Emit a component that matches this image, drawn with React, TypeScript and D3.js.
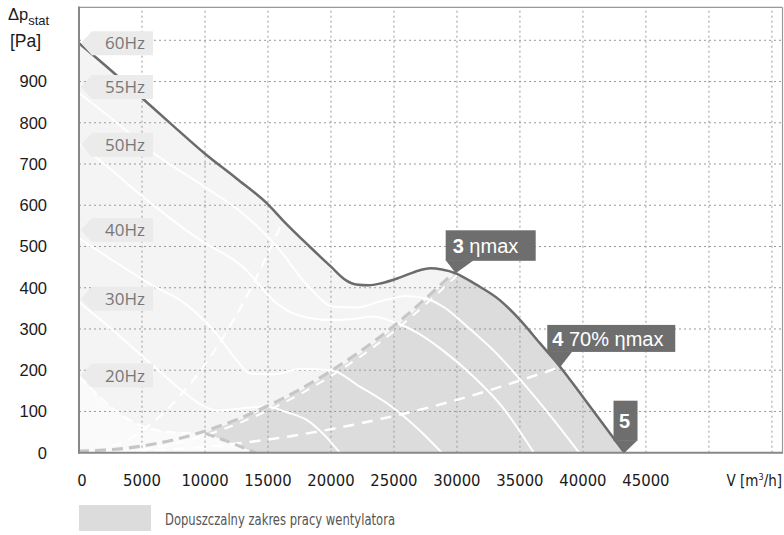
import React from 'react';
import * as d3 from 'd3';

type P = [number, number];

// ---- data (flow m3/h, pressure Pa) ----
const flowTicks = [0, 5000, 10000, 15000, 20000, 25000, 30000, 35000, 40000, 45000];
const gridFlows = [5000, 10000, 15000, 20000, 25000, 30000, 35000, 40000, 45000, 50000, 55000];
const pressureTicks = [0, 100, 200, 300, 400, 500, 600, 700, 800, 900];
const gridPressures = [100, 200, 300, 400, 500, 600, 700, 800, 900, 1000];

const envelope60: P[] = [
  [0, 993], [2500, 928], [5000, 860], [7500, 792], [10000, 725], [12500, 665], [15000, 602],
  [16200, 563], [18300, 500], [20000, 451], [21200, 418], [22000, 408], [23000, 406], [24000, 411],
  [25500, 425], [27000, 442], [27900, 447], [28800, 444], [29900, 435], [31500, 408], [33400, 370],
  [35000, 322], [36600, 265], [38200, 208], [40000, 135], [41300, 82], [43300, 0],
];
const curve55: P[] = [
  [0, 872], [3000, 800], [6000, 725], [9700, 650], [13000, 580], [15700, 500], [18300, 400],
  [20200, 354], [22000, 352], [24000, 368], [26000, 380], [27500, 374], [29000, 352], [30800, 306],
  [33000, 245], [35500, 160], [37800, 75], [39700, 0],
];
const curve50: P[] = [
  [0, 750], [2000, 700], [5500, 610], [9600, 516], [13000, 451], [15700, 362], [17500, 332],
  [19900, 322], [22000, 325], [23300, 330], [24900, 318], [27000, 288], [29000, 245], [31300, 185],
  [33500, 115], [36100, 0],
];
const curve40: P[] = [
  [0, 520], [3000, 460], [6000, 403], [8400, 362], [11000, 285], [12500, 225], [13600, 192],
  [15500, 190], [17500, 203], [20000, 200], [22300, 160], [24800, 112], [27000, 55], [28800, 0],
];
const curve30: P[] = [
  [0, 365], [2000, 315], [4000, 262], [6000, 208], [8000, 155], [9600, 118], [11000, 102],
  [13000, 108], [14900, 112], [16500, 98], [18100, 79], [19500, 42], [20700, 0],
];
const curve20: P[] = [[0, 185], [1500, 140], [3000, 100], [5000, 65], [7000, 51], [8500, 48], [10000, 47]];
const minCurve: P[] = [[10000, 47], [12000, 25], [14000, 0]];
const etaMax: P[] = [[0, 0], [5000, 12], [10000, 48], [15000, 109], [20000, 193], [25000, 302], [27300, 362], [29900, 435]];
const eta70: P[] = [[0, 0], [5000, 4], [10000, 14], [15000, 32], [20000, 57], [25000, 89], [30000, 128], [35000, 175], [38200, 208]];
const systemCurve: P[] = [[0, 0], [4000, 34], [8000, 137], [12000, 308], [14000, 420], [16200, 563]];

const hzLabels = ['60Hz', '55Hz', '50Hz', '40Hz', '30Hz', '20Hz'];
const hzLabelPressure = [993, 887, 747, 540, 373, 187];

const pointEtaMax: P = [29900, 435];
const point70: P = [38200, 208];
const point5: P = [43300, 0];

// ---- layout ----
const W = 784;
const H = 535;
const x = d3.scaleLinear().domain([0, 55800]).range([79, 782]);
const y = d3.scaleLinear().domain([0, 1080]).range([452.7, 7.3]);

const lineM = d3.line<P>().x(d => x(d[0])).y(d => y(d[1])).curve(d3.curveMonotoneX);
const lineL = d3.line<P>().x(d => x(d[0])).y(d => y(d[1]));
const areaM = d3.area<P>().x(d => x(d[0])).y0(y(0)).y1(d => y(d[1])).curve(d3.curveMonotoneX);

const cont = (s: string) => 'L' + s.slice(1);

export default function App() {
  const envRight = envelope60.filter(d => d[0] >= pointEtaMax[0]);
  const etaUpper = etaMax.filter(d => d[0] >= 10000);
  const darkPath =
    lineM(etaUpper)! +
    cont(lineM(envRight)!) +
    cont(lineL([[14000, 0], ...minCurve.slice().reverse().slice(1)] as P[])!) + 'Z';
  const lightPath =
    lineM(curve20)! + cont(lineL(minCurve)!) + `L${x(0)},${y(0)}Z`;

  const whiteSolid = [curve55, curve50, curve40, curve30];
  const tagFont = '"Open Sans", "DejaVu Sans", sans-serif';
  const armFont = '"Liberation Sans", Arial, sans-serif';
  const condFont = '"DejaVu Sans Condensed", "DejaVu Sans", sans-serif';

  const callout = (tip: P, bx0: number, bx1: number, by0: number, by1: number, triR: number, content: React.ReactNode, tx: number, ty: number) => {
    const tx0 = x(tip[0]);
    const ty0 = y(tip[1]);
    return (
      <g>
        <rect x={tx0 + bx0} y={ty0 + by0} width={bx1 - bx0} height={by1 - by0} fill="#6e6e6e" />
        <path d={`M${tx0 + bx0},${ty0 + by1 - 0.5}L${tx0 + triR},${ty0 + by1 - 0.5}L${tx0},${ty0}Z`} fill="#6e6e6e" />
        <text x={tx0 + tx} y={ty0 + ty} fill="#fff" fontFamily={armFont} fontSize={20}>{content}</text>
      </g>
    );
  };

  return (
    <svg width={W} height={H} style={{ position: 'absolute', left: 0, top: 0, background: '#fff' }}>
      <rect x={0} y={0} width={W} height={H} fill="#fff" />
      {/* fills */}
      <path d={areaM(envelope60)!} fill="#f4f4f4" />
      <path d={lightPath} fill="#fafafa" />
      <path d={darkPath} fill="#dcdcdc" />
      {/* grid */}
      {gridPressures.map(p => (
        <line key={'h' + p} x1={x(0)} x2={782} y1={y(p)} y2={y(p)} stroke="#999" strokeWidth={1} strokeDasharray="2,3" />
      ))}
      {gridFlows.map(f => (
        <line key={'v' + f} x1={x(f)} x2={x(f)} y1={y(0)} y2={7.3} stroke="#999" strokeWidth={1} strokeDasharray="2,3" />
      ))}
      {/* frequency curves */}
      {whiteSolid.map((c, i) => (
        <path key={'w' + i} d={lineM(c)!} fill="none" stroke="#fff" strokeWidth={2} />
      ))}
      <path d={lineM(curve20)!} fill="none" stroke="#fff" strokeWidth={2} strokeDasharray="10,5" />
      {/* system curves */}
      <path d={lineM(systemCurve)!} fill="none" stroke="#fff" strokeWidth={2.2} strokeDasharray="10,7" />
      <path d={lineM(eta70)!} fill="none" stroke="#fff" strokeWidth={2.5} strokeDasharray="11,8" />
      <path d={lineM(etaMax)!} fill="none" stroke="#c6c6c6" strokeWidth={3.2} strokeDasharray="11,6" transform="translate(-1,-1.5)" />
      <path d={lineM(etaMax)!} fill="none" stroke="#fff" strokeWidth={2} strokeDasharray="9,8" strokeDashoffset={6} transform="translate(1.5,2)" />
      <path d={lineL(minCurve)!} fill="none" stroke="#c6c6c6" strokeWidth={3} strokeDasharray="10,6" />
      {/* envelope */}
      <path d={lineM(envelope60)!} fill="none" stroke="#6b6b6b" strokeWidth={2.5} />
      {/* frame */}
      <line x1={x(0)} x2={782} y1={7.3} y2={7.3} stroke="#999" strokeWidth={1.2} />
      <line x1={782.5} x2={782.5} y1={7.3} y2={y(0)} stroke="#999" strokeWidth={1.2} />
      <line x1={x(0)} x2={x(0)} y1={6.5} y2={y(0) + 1} stroke="#888" strokeWidth={2} />
      <line x1={x(0) - 1} x2={783} y1={y(0)} y2={y(0)} stroke="#888" strokeWidth={2} />
      {/* Hz tags */}
      {hzLabels.map((t, i) => {
        const cy = y(hzLabelPressure[i]);
        const tx = x(0) + 2;
        return (
          <g key={t}>
            <path d={`M${tx},${cy}L${tx + 11},${cy - 12}L153,${cy - 12}L153,${cy + 12}L${tx + 11},${cy + 12}Z`} fill="#ebebeb" />
            <text x={125} y={cy} dy="0.36em" textAnchor="middle" fill="#777" fontFamily={tagFont} fontSize={17}>{t}</text>
          </g>
        );
      })}
      {/* callouts */}
      {callout(pointEtaMax, -10, 80, -43, -12.5, 18, (<><tspan fontWeight="bold">3</tspan><tspan> ηmax</tspan></>), -3, -20)}
      {callout(point70, -13, 115, -42, -15, 12, (<><tspan fontWeight="bold">4</tspan><tspan> 70% ηmax</tspan></>), -8, -20.5)}
      {callout(point5, -11, 13, -52, -12, 13, (<tspan fontWeight="bold">5</tspan>), -5.5, -25)}
      {/* y axis */}
      <text x={8} y={20} fill="#1a1a1a" fontFamily={armFont} fontSize={16.5}>Δp<tspan fontSize={13} dy={5}>stat</tspan></text>
      <text x={10} y={46.5} fill="#1a1a1a" fontFamily={armFont} fontSize={17.5}>[Pa]</text>
      {pressureTicks.map(p => (
        <text key={'yt' + p} x={47} y={y(p)} dy="0.36em" textAnchor="end" fill="#1a1a1a" fontFamily={armFont} fontSize={16.5}>{p}</text>
      ))}
      {/* x axis */}
      {flowTicks.map(f => (
        <text key={'xt' + f} x={x(f) + (f === 0 ? 3 : 0)} y={486} textAnchor="middle" fill="#1a1a1a" fontFamily={condFont} fontSize={16.5}>{f}</text>
      ))}
      <text x={782} y={486} textAnchor="end" fill="#1a1a1a" fontFamily={condFont} fontSize={15}>V [m<tspan fontSize={9} dy={-6}>3</tspan><tspan dy={6}>/h]</tspan></text>
      {/* legend */}
      <rect x={79} y={505} width={72} height={26} fill="#dcdcdc" />
      <text x={165} y={525} fill="#555" fontFamily={condFont} fontSize={15} textLength={230} lengthAdjust="spacingAndGlyphs">Dopuszczalny zakres pracy wentylatora</text>
    </svg>
  );
}
